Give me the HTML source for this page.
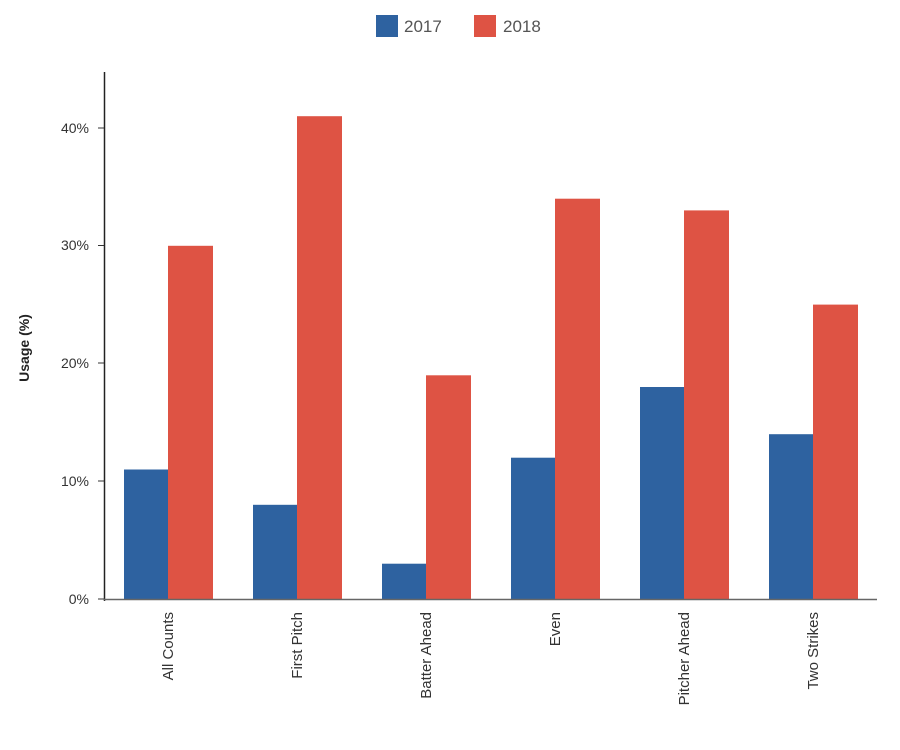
<!DOCTYPE html>
<html><head><meta charset="utf-8"><style>html,body{margin:0;padding:0;background:#fff}svg{display:block}</style></head>
<body>
<svg width="900" height="750" xmlns="http://www.w3.org/2000/svg" font-family="Liberation Sans, sans-serif">
<rect width="900" height="750" fill="#fff"/>
<rect x="376" y="15" width="22" height="22" fill="#2e62a0"/>
<text x="404" y="32" font-size="17" fill="#555">2017</text>
<rect x="474" y="15" width="22" height="22" fill="#de5344"/>
<text x="503" y="32" font-size="17" fill="#555">2018</text>
<g fill="#2e62a0">
<rect x="124" y="469.5" width="44" height="129.5"/>
<rect x="253" y="504.8" width="44" height="94.2"/>
<rect x="382" y="563.7" width="44" height="35.3"/>
<rect x="511" y="457.7" width="44" height="141.3"/>
<rect x="640" y="387" width="44" height="212"/>
<rect x="769" y="434.2" width="44" height="164.8"/>
</g>
<g fill="#de5344">
<rect x="168" y="245.8" width="45" height="353.2"/>
<rect x="297" y="116.2" width="45" height="482.8"/>
<rect x="426" y="375.3" width="45" height="223.7"/>
<rect x="555" y="198.7" width="45" height="400.3"/>
<rect x="684" y="210.4" width="45" height="388.6"/>
<rect x="813" y="304.6" width="45" height="294.4"/>
</g>
<line x1="104.5" y1="72" x2="104.5" y2="601" stroke="#222" stroke-width="1.5"/>
<line x1="104" y1="599.5" x2="877" y2="599.5" stroke="#666" stroke-width="1.5"/>
<g stroke="#333" stroke-width="1">
<line x1="98" y1="128" x2="104" y2="128"/><line x1="98" y1="245.5" x2="104" y2="245.5"/>
<line x1="98" y1="363" x2="104" y2="363"/><line x1="98" y1="481" x2="104" y2="481"/>
<line x1="98" y1="599" x2="104" y2="599"/>
</g>
<g font-size="14" fill="#333" text-anchor="end">
<text x="89" y="133">40%</text><text x="89" y="250">30%</text>
<text x="89" y="368">20%</text><text x="89" y="486">10%</text><text x="89" y="604">0%</text>
</g>
<text transform="translate(29,348) rotate(-90)" font-size="14" font-weight="bold" fill="#222" text-anchor="middle">Usage (%)</text>
<g font-size="15" fill="#333" text-anchor="end">
<text transform="translate(173,612) rotate(-90)">All Counts</text>
<text transform="translate(302,612) rotate(-90)">First Pitch</text>
<text transform="translate(431,612) rotate(-90)">Batter Ahead</text>
<text transform="translate(560,612) rotate(-90)">Even</text>
<text transform="translate(689,612) rotate(-90)">Pitcher Ahead</text>
<text transform="translate(818,612) rotate(-90)">Two Strikes</text>
</g>
</svg>
</body></html>
